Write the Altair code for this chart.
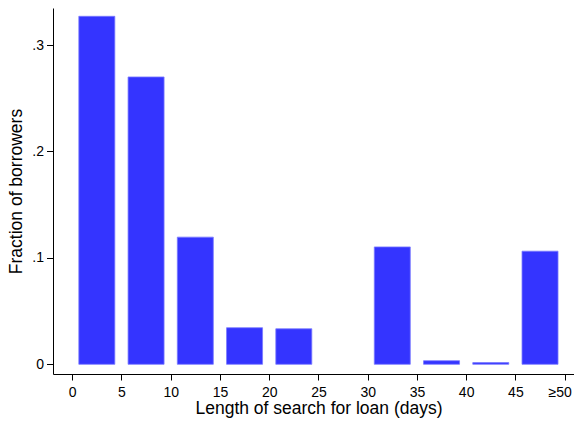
import altair as alt
import pandas as pd

bin_start = [0, 5, 10, 15, 20, 25, 30, 35, 40, 45]
fraction = [0.327, 0.270, 0.1195, 0.0344, 0.0334, 0.0, 0.1103, 0.0034, 0.0016, 0.1063]
x_ticks = [0, 5, 10, 15, 20, 25, 30, 35, 40, 45, 50]
y_ticks = [0, 0.1, 0.2, 0.3]

df = pd.DataFrame({"start": bin_start, "fraction": fraction})
df["mid"] = df["start"] + 2.5

FONT = "Liberation Sans"

bars = alt.Chart(df).transform_filter(
    "datum.fraction > 0"
).mark_bar(
    size=36, color="#3434ff", stroke="#7a7aff", strokeWidth=0.8
).encode(
    x=alt.X(
        "mid:Q",
        scale=alt.Scale(domain=[-1.95, 50.95], nice=False, zero=False, padding=0),
        axis=alt.Axis(
            title="Length of search for loan (days)",
            values=x_ticks,
            labelExpr="datum.value == 50 ? '≥50' : datum.label",
            labelOffset={"condition": {"test": "datum.value == 50", "value": -5}, "value": 0},
            grid=False,
            tickSize=6,
            labelPadding=5,
            labelFontSize=14,
            labelFont=FONT,
            labelColor="black",
            titleFont=FONT,
            titleFontSize=17.5,
            titleFontWeight="normal",
            titleColor="black",
            titleBaseline="alphabetic",
            titleY=39,
            titleX=265.5,
            domainColor="black",
            tickColor="black",
            labelOverlap=False,
        ),
    ),
    y=alt.Y(
        "fraction:Q",
        scale=alt.Scale(domain=[-0.0091, 0.3348], nice=False, zero=False, padding=0),
        axis=alt.Axis(
            title="Fraction of borrowers",
            values=y_ticks,
            labelExpr="datum.value == 0 ? '0' : replace(format(datum.value, '.1f'), '0.', '.')",
            grid=False,
            tickSize=6.5,
            labelPadding=3,
            labelFontSize=14,
            labelFont=FONT,
            labelColor="black",
            titleFont=FONT,
            titleFontSize=17.5,
            titleFontWeight="normal",
            titleColor="black",
            titleBaseline="alphabetic",
            titleX=-32,
            domainColor="black",
            tickColor="black",
        ),
    ),
    y2=alt.datum(0),
)

chart = bars.properties(
    width=521,
    height=366,
    autosize=alt.AutoSizeParams(type="none"),
    padding={"left": 45, "top": 0, "right": 0, "bottom": 44},
    background="white",
).configure_view(stroke=None)

chart.save("out.html", embed_options={"renderer": "svg", "actions": False})
